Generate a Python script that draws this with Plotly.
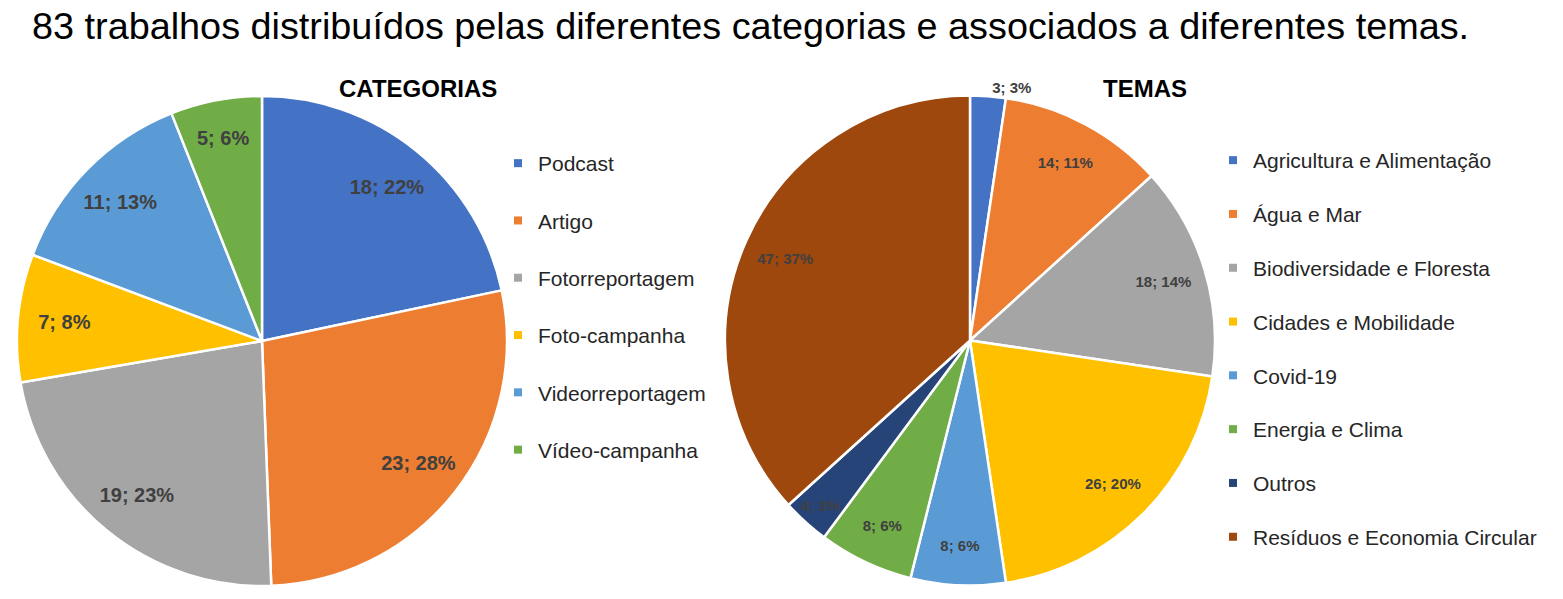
import plotly.graph_objects as go

# ---- data ----
cat_labels = ["Podcast", "Artigo", "Fotorreportagem", "Foto-campanha", "Videorreportagem", "Vídeo-campanha"]
cat_values = [18, 23, 19, 7, 11, 5]
cat_pct = ["22%", "28%", "23%", "8%", "13%", "6%"]
cat_colors = ["#4472C4", "#ED7D31", "#A5A5A5", "#FFC000", "#5B9BD5", "#70AD47"]

tema_labels = ["Agricultura e Alimentação", "Água e Mar", "Biodiversidade e Floresta", "Cidades e Mobilidade",
               "Covid-19", "Energia e Clima", "Outros", "Resíduos e Economia Circular"]
tema_values = [3, 14, 18, 26, 8, 8, 4, 47]
tema_pct = ["3%", "11%", "14%", "20%", "6%", "6%", "3%", "37%"]
tema_colors = ["#4472C4", "#ED7D31", "#A5A5A5", "#FFC000", "#5B9BD5", "#70AD47", "#264478", "#9E480E"]

W, H = 1563, 599
OFF = 8  # page body offset
FONT = "Liberation Sans, Arial, sans-serif"
LABEL_COLOR = "#404040"


def px_x(v):
    return (v - OFF) / W


def px_y(v):
    return 1 - (v - OFF) / H


fig = go.Figure()

left_dom = dict(x=[px_x(17), px_x(507)], y=[px_y(586), px_y(96)])
right_dom = dict(x=[px_x(725), px_x(1215)], y=[px_y(586), px_y(95)])

# Left pie (slices)
fig.add_trace(go.Pie(
    labels=cat_labels, values=cat_values, textinfo="none",
    marker=dict(colors=cat_colors, line=dict(color="white", width=2.5)),
    sort=False, direction="clockwise", rotation=0,
    domain=left_dom, showlegend=False, hoverinfo="label+value+percent",
))
# Left pie labels (transparent ring so labels sit near the rim)
fig.add_trace(go.Pie(
    labels=cat_labels, values=cat_values, hole=0.62,
    text=[f"{v}; {p}" for v, p in zip(cat_values, cat_pct)],
    textinfo="text", textposition="inside", insidetextorientation="horizontal",
    textfont=dict(family=FONT, size=20, color=LABEL_COLOR, weight="bold"),
    marker=dict(colors=["rgba(0,0,0,0)"] * len(cat_values), line=dict(width=0)),
    sort=False, direction="clockwise", rotation=0,
    domain=left_dom, showlegend=False, hoverinfo="skip",
))

# Right pie (slices)
fig.add_trace(go.Pie(
    labels=tema_labels, values=tema_values, textinfo="none",
    marker=dict(colors=tema_colors, line=dict(color="white", width=2.5)),
    sort=False, direction="clockwise", rotation=0,
    domain=right_dom, showlegend=False, hoverinfo="label+value+percent",
))
tema_pos = ["outside"] + ["inside"] * (len(tema_values) - 1)
fig.add_trace(go.Pie(
    labels=tema_labels, values=tema_values, hole=0.65,
    text=[f"{v}; {p}" for v, p in zip(tema_values, tema_pct)],
    textinfo="text", textposition=tema_pos, insidetextorientation="horizontal",
    textfont=dict(family=FONT, size=15, color=LABEL_COLOR, weight="bold"),
    marker=dict(colors=["rgba(0,0,0,0)"] * len(tema_values), line=dict(width=0)),
    sort=False, direction="clockwise", rotation=0,
    domain=right_dom, showlegend=False, hoverinfo="skip",
))

# Legend entries (one group each so spacing can be controlled)
for lab, col in zip(cat_labels, cat_colors):
    fig.add_trace(go.Scatter(x=[None], y=[None], mode="markers", name=lab,
                             marker=dict(symbol="square", size=8, color=col),
                             legendgroup="c_" + lab, legend="legend", showlegend=True))
for lab, col in zip(tema_labels, tema_colors):
    fig.add_trace(go.Scatter(x=[None], y=[None], mode="markers", name=lab,
                             marker=dict(symbol="square", size=8, color=col),
                             legendgroup="t_" + lab, legend="legend2", showlegend=True))

fig.update_layout(
    width=W, height=H,
    margin=dict(l=0, r=0, t=0, b=0),
    paper_bgcolor="white", plot_bgcolor="white",
    font=dict(family=FONT, color="#262626"),
    xaxis=dict(visible=False), yaxis=dict(visible=False),
    legend=dict(x=px_x(498), y=px_y(143), xanchor="left", yanchor="top",
                font=dict(size=21, color="#262626", family=FONT),
                tracegroupgap=27, bgcolor="rgba(0,0,0,0)", itemclick=False),
    legend2=dict(x=px_x(1213), y=px_y(140), xanchor="left", yanchor="top",
                 font=dict(size=21, color="#262626", family=FONT),
                 tracegroupgap=23.5, bgcolor="rgba(0,0,0,0)", itemclick=False),
    annotations=[
        dict(text="83 trabalhos distribuídos pelas diferentes categorias e associados a diferentes temas.",
             x=px_x(750), y=px_y(26), xref="paper", yref="paper", showarrow=False,
             font=dict(size=37.8, color="black", family=FONT), xanchor="center", yanchor="middle"),
        dict(text="<b>CATEGORIAS</b>", x=px_x(418), y=px_y(88), xref="paper", yref="paper",
             showarrow=False, font=dict(size=24, color="black", family=FONT),
             xanchor="center", yanchor="middle"),
        dict(text="<b>TEMAS</b>", x=px_x(1145), y=px_y(88), xref="paper", yref="paper",
             showarrow=False, font=dict(size=24, color="black", family=FONT),
             xanchor="center", yanchor="middle"),
    ],
)

fig.write_html("out.html")
